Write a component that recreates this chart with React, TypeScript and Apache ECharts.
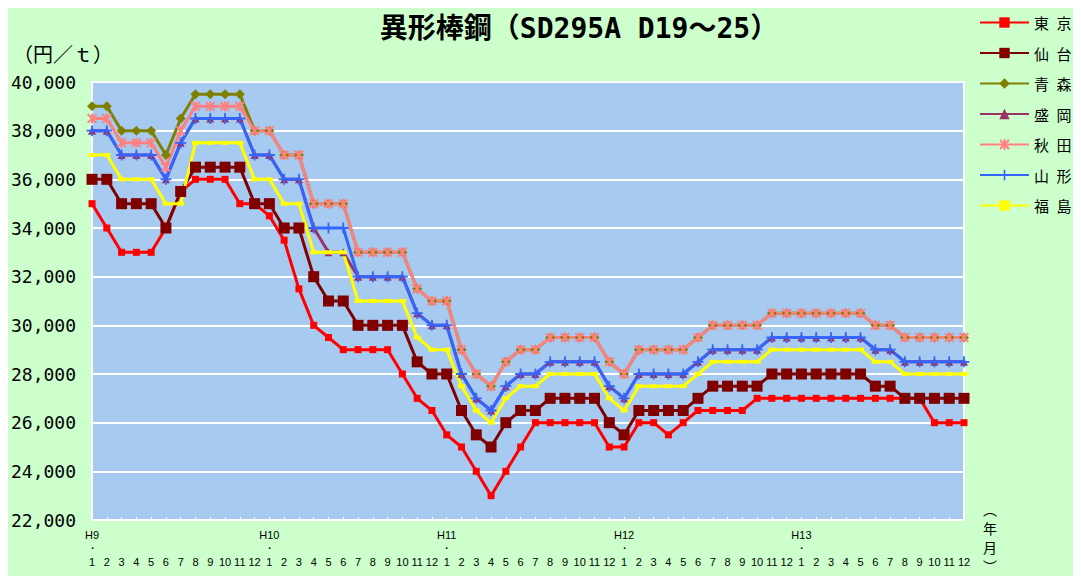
import React, { useEffect, useRef } from "react";
import * as echarts from "echarts";

const years = ["H9", "H10", "H11", "H12", "H13"];
const months = ["1", "2", "3", "4", "5", "6", "7", "8", "9", "10", "11", "12"];

const names = ["東\u2002京", "仙\u2002台", "青\u2002森", "盛\u2002岡", "秋\u2002田", "山\u2002形", "福\u2002島"];

const tokyo = [
  35000, 34000, 33000, 33000, 33000, 34000, 35500, 36000, 36000, 36000, 35000, 35000,
  34500, 33500, 31500, 30000, 29500, 29000, 29000, 29000, 29000, 28000, 27000, 26500,
  25500, 25000, 24000, 23000, 24000, 25000, 26000, 26000, 26000, 26000, 26000, 25000,
  25000, 26000, 26000, 25500, 26000, 26500, 26500, 26500, 26500, 27000, 27000, 27000,
  27000, 27000, 27000, 27000, 27000, 27000, 27000, 27000, 27000, 26000, 26000, 26000,
];
const sendai = [
  36000, 36000, 35000, 35000, 35000, 34000, 35500, 36500, 36500, 36500, 36500, 35000,
  35000, 34000, 34000, 32000, 31000, 31000, 30000, 30000, 30000, 30000, 28500, 28000,
  28000, 26500, 25500, 25000, 26000, 26500, 26500, 27000, 27000, 27000, 27000, 26000,
  25500, 26500, 26500, 26500, 26500, 27000, 27500, 27500, 27500, 27500, 28000, 28000,
  28000, 28000, 28000, 28000, 28000, 27500, 27500, 27000, 27000, 27000, 27000, 27000,
];
const aomori = [
  39000, 39000, 38000, 38000, 38000, 37000, 38500, 39500, 39500, 39500, 39500, 38000,
  38000, 37000, 37000, 35000, 35000, 35000, 33000, 33000, 33000, 33000, 31500, 31000,
  31000, 29000, 28000, 27500, 28500, 29000, 29000, 29500, 29500, 29500, 29500, 28500,
  28000, 29000, 29000, 29000, 29000, 29500, 30000, 30000, 30000, 30000, 30500, 30500,
  30500, 30500, 30500, 30500, 30500, 30000, 30000, 29500, 29500, 29500, 29500, 29500,
];
const morioka = [
  38000, 38000, 37000, 37000, 37000, 36000, 37500, 38500, 38500, 38500, 38500, 37000,
  37000, 36000, 36000, 34000, 33000, 33000, 32000, 32000, 32000, 32000, 30500, 30000,
  30000, 28000, 27000, 26500, 27500, 28000, 28000, 28500, 28500, 28500, 28500, 27500,
  27000, 28000, 28000, 28000, 28000, 28500, 29000, 29000, 29000, 29000, 29500, 29500,
  29500, 29500, 29500, 29500, 29500, 29000, 29000, 28500, 28500, 28500, 28500, 28500,
];
const akita = [
  38500, 38500, 37500, 37500, 37500, 36500, 38000, 39000, 39000, 39000, 39000, 38000,
  38000, 37000, 37000, 35000, 35000, 35000, 33000, 33000, 33000, 33000, 31500, 31000,
  31000, 29000, 28000, 27500, 28500, 29000, 29000, 29500, 29500, 29500, 29500, 28500,
  28000, 29000, 29000, 29000, 29000, 29500, 30000, 30000, 30000, 30000, 30500, 30500,
  30500, 30500, 30500, 30500, 30500, 30000, 30000, 29500, 29500, 29500, 29500, 29500,
];
const yamagata = [
  38000, 38000, 37000, 37000, 37000, 36000, 37500, 38500, 38500, 38500, 38500, 37000,
  37000, 36000, 36000, 34000, 34000, 34000, 32000, 32000, 32000, 32000, 30500, 30000,
  30000, 28000, 27000, 26500, 27500, 28000, 28000, 28500, 28500, 28500, 28500, 27500,
  27000, 28000, 28000, 28000, 28000, 28500, 29000, 29000, 29000, 29000, 29500, 29500,
  29500, 29500, 29500, 29500, 29500, 29000, 29000, 28500, 28500, 28500, 28500, 28500,
];
const fukushima = [
  37000, 37000, 36000, 36000, 36000, 35000, 35000, 37500, 37500, 37500, 37500, 36000,
  36000, 35000, 35000, 33000, 33000, 33000, 31000, 31000, 31000, 31000, 29500, 29000,
  29000, 27500, 26500, 26000, 27000, 27500, 27500, 28000, 28000, 28000, 28000, 27000,
  26500, 27500, 27500, 27500, 27500, 28000, 28500, 28500, 28500, 28500, 29000, 29000,
  29000, 29000, 29000, 29000, 29000, 28500, 28500, 28000, 28000, 28000, 28000, 28000,
];

const seriesData = [tokyo, sendai, aomori, morioka, akita, yamagata, fukushima];
const colors = ["#FF0000", "#800000", "#808000", "#993366", "#FF8080", "#3366FF", "#FFFF00"];

const ASTERISK =
  "path://M4,0 L6,0 L6,10 L4,10 Z M0,1.4 L1.4,0 L10,8.6 L8.6,10 Z M8.6,0 L10,1.4 L1.4,10 L0,8.6 Z";
const PLUS = "path://M4.2,0 L5.8,0 L5.8,10 L4.2,10 Z M0,4.2 L10,4.2 L10,5.8 L0,5.8 Z";

const symbols: any[] = ["rect", "rect", "diamond", "triangle", ASTERISK, PLUS, "rect"];
const symbolSizes: any[] = [7, 11, 10, 8, 10, 11, [7, 4]];

export default function App() {
  const ref = useRef<HTMLDivElement>(null);
  useEffect(() => {
    const chart = echarts.init(ref.current!, null, { renderer: "svg" });
    const categories: string[] = [];
    years.forEach((y) => {
      months.forEach((m, i) => {
        categories.push(i === 0 ? `${y}\n・\n${m}` : `\n\n${m}`);
      });
    });

    const series = seriesData.map((d, i) => ({
      name: names[i],
      type: "line",
      data: d,
      symbol: symbols[i],
      symbolSize: symbolSizes[i],
      showAllSymbol: true,
      lineStyle: { color: colors[i], width: 3 },
      itemStyle: { color: colors[i] },
      emphasis: { disabled: true },
    }));

    chart.setOption({
      animation: false,
      backgroundColor: "#CCFFCC",
      textStyle: { fontFamily: "Liberation Sans, Arial, sans-serif" },
      grid: {
        left: 83,
        top: 74,
        width: 873,
        height: 438,
        show: true,
        backgroundColor: "#A6CAF0",
        borderColor: "#FFFFFF",
        borderWidth: 2,
      },
      legend: {
        orient: "vertical",
        left: 971,
        top: 7,
        padding: 0,
        itemWidth: 49,
        itemHeight: 13,
        itemGap: 15.5,
        textStyle: { fontSize: 15, fontFamily: "Noto Sans CJK JP", color: "#000" },
        data: names,
      },
      xAxis: {
        type: "category",
        data: categories,
        boundaryGap: false,
        axisLine: { show: false },
        axisTick: {
          show: true,
          inside: true,
          length: 3,
          interval: 0,
          lineStyle: { color: "#FFFFFF", width: 1 },
        },
        axisLabel: {
          interval: 0,
          margin: 8,
          fontSize: 11,
          lineHeight: 13.5,
          color: "#000",
          fontFamily: "Liberation Sans, Arial, sans-serif",
        },
        splitLine: { show: false },
      },
      yAxis: {
        type: "value",
        min: 22000,
        max: 40000,
        interval: 2000,
        axisLine: { show: false },
        axisTick: { show: false },
        axisLabel: {
          margin: 16,
          fontSize: 18,
          color: "#000",
          fontFamily: "DejaVu Sans Mono, monospace",
          formatter: (v: number) => v.toLocaleString("en-US"),
        },
        splitLine: { lineStyle: { color: "#FFFFFF", width: 2 } },
      },
      graphic: [
        {
          type: "text",
          x: 571,
          y: 20,
          style: {
            text: "異形棒鋼（SD295A D19～25）",
            fontSize: 28,
            fontWeight: "bold",
            fontFamily: "DejaVu Sans Mono, Noto Sans CJK JP",
            fill: "#000",
            align: "center",
            verticalAlign: "middle",
          },
        },
        {
          type: "text",
          x: 5,
          y: 45,
          style: {
            text: "（円／ｔ）",
            fontSize: 20,
            fontFamily: "Noto Sans CJK JP",
            fill: "#000",
            verticalAlign: "middle",
          },
        },
        {
          type: "text",
          x: 982,
          y: 529,
          style: {
            text: "︵\n年\n月\n︶",
            fontSize: 14,
            lineHeight: 19,
            fontFamily: "Noto Sans CJK JP",
            fill: "#000",
            align: "center",
            verticalAlign: "middle",
          },
        },
      ],
      series,
    });
    return () => chart.dispose();
  }, []);
  return <div ref={ref} style={{ width: 1065, height: 568 }} />;
}
